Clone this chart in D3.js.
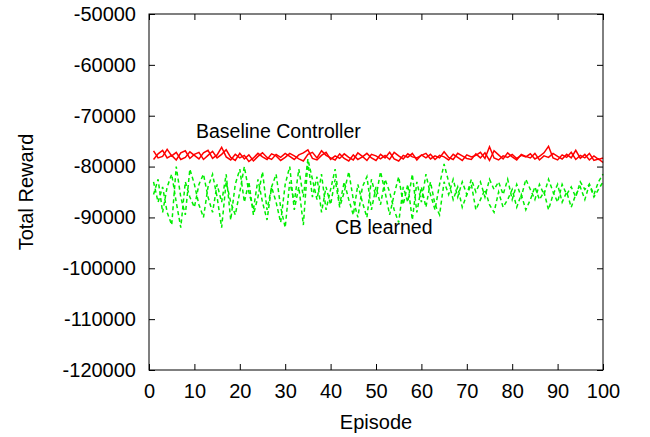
<!DOCTYPE html>
<html>
<head>
<meta charset="utf-8">
<script src="https://cdn.jsdelivr.net/npm/d3@7"></script>
<style>
  body { margin: 0; background: #fff; }
  text { font-family: "Liberation Sans", Arial, sans-serif; fill: #000; }
</style>
</head>
<body>
<svg id="chart" width="650" height="437"></svg>
<script>
// episodes 1..100
var episodes = d3.range(1, 101)

var xTicks = [0, 10, 20, 30, 40, 50, 60, 70, 80, 90, 100]
var yTicks = [-50000, -60000, -70000, -80000, -90000, -100000, -110000, -120000]

// baseline controller runs (red)
var baselineA = [
  -76900,-78300,-78000,-76600,-77900,-77200,-78600,-78200,-77100,-77800,
  -78500,-77300,-76800,-78400,-77700,-76200,-78100,-78700,-77600,-78300,
  -77800,-79000,-78300,-77400,-78100,-78600,-77500,-77900,-78800,-78200,
  -77400,-77900,-78500,-78900,-77600,-77200,-78300,-76900,-77800,-78300,
  -78700,-77500,-78400,-78900,-77700,-78600,-78100,-77400,-78300,-78800,
  -77600,-78300,-77200,-78500,-78900,-77800,-78200,-77400,-78700,-77700,
  -78300,-77600,-78600,-77800,-78100,-78700,-77600,-78200,-78800,-77700,
  -78100,-77800,-77200,-78400,-76100,-78300,-78700,-77900,-78200,-77600,
  -78400,-77800,-78100,-77500,-78500,-78000,-77300,-76000,-78300,-78700,
  -77700,-78200,-77200,-78600,-77800,-78300,-77400,-78800,-78500,-79200
]
var baselineB = [
  -78600,-77500,-76800,-78300,-77800,-78700,-77300,-76900,-78400,-77600,
  -77200,-78600,-77800,-77000,-78300,-77600,-76700,-78200,-78800,-77400,
  -78500,-77700,-78900,-78000,-77300,-78200,-78600,-77600,-78200,-77400,
  -78000,-78600,-77700,-77300,-76700,-78400,-78700,-77800,-77200,-78600,
  -77900,-78400,-77500,-78200,-78700,-77300,-78000,-78800,-77600,-77900,
  -78500,-77800,-78600,-77200,-77900,-78500,-77500,-78100,-78300,-77800,
  -77400,-78500,-77900,-78300,-77100,-78200,-78600,-77400,-77900,-78400,
  -78600,-77500,-78300,-77300,-78800,-76900,-77700,-78500,-77300,-78100,
  -78700,-77600,-78000,-78300,-77400,-78700,-77900,-78200,-77400,-78000,
  -78500,-77600,-78300,-76800,-78400,-77600,-78700,-77900,-78600,-78300
]

// CB learned runs (green, dashed)
var learnedA = [
  -83000,-87000,-84000,-89000,-91500,-80000,-86000,-89500,-80500,-83500,
  -87500,-90000,-84000,-81500,-86000,-92000,-83000,-87000,-89500,-85000,
  -80000,-85000,-88500,-82500,-87000,-90500,-84000,-81500,-88000,-92000,
  -83000,-87000,-80500,-86000,-78500,-82500,-86500,-81500,-88500,-84500,
  -80500,-87500,-83000,-86500,-89500,-83500,-87000,-90000,-82500,-86000,
  -81000,-85000,-89500,-85500,-82000,-87500,-83500,-90500,-83000,-87000,
  -81500,-85500,-88500,-83500,-79500,-83000,-86500,-84000,-88000,-85500,
  -83500,-88500,-86500,-84500,-87500,-89000,-85000,-88000,-86500,-84500,
  -88000,-85500,-88500,-86500,-84000,-86500,-85000,-88500,-85500,-83500,
  -87000,-85000,-88000,-85500,-84000,-86500,-83500,-85500,-83000,-81500
]
var learnedB = [
  -85500,-82500,-89000,-84000,-81500,-87000,-92000,-83000,-86000,-88000,
  -83500,-81500,-86000,-89000,-83500,-87000,-81500,-90500,-83500,-80500,
  -87000,-83000,-89500,-86000,-81000,-88500,-84000,-87000,-91000,-83500,
  -80000,-88500,-84000,-91500,-79000,-86000,-82000,-89000,-84000,-87500,
  -82500,-88000,-85000,-81000,-86500,-90000,-84000,-82000,-88500,-84000,
  -87500,-82500,-85000,-88500,-91000,-84000,-87000,-81500,-89000,-84000,
  -88000,-83000,-87500,-89500,-83000,-85500,-82500,-86000,-83000,-85500,
  -82500,-85000,-83000,-86000,-82500,-84500,-83000,-85500,-82500,-86500,
  -83500,-86000,-82500,-84500,-86500,-83500,-85500,-82500,-85000,-87000,
  -83500,-85500,-84000,-86000,-83000,-84500,-83500,-86000,-84500,-83000
]

var svg = d3.select("#chart")
var margin = {left: 149, right: 47, top: 14, bottom: 67}
var w = 650 - margin.left - margin.right
var h = 437 - margin.top - margin.bottom

var x = d3.scaleLinear().domain([0, 100]).range([margin.left, margin.left + w])
var y = d3.scaleLinear().domain([-120000, -50000]).range([margin.top + h, margin.top])

var line = d3.line()
  .x(function(d, i) { return x(episodes[i]) })
  .y(function(d) { return y(d) })

// plot lines first so frame sits on top
var plot = svg.append("g")

;[learnedA, learnedB].forEach(function(s) {
  plot.append("path")
    .datum(s)
    .attr("d", line)
    .attr("fill", "none")
    .attr("stroke", "#00ee00")
    .attr("stroke-width", 1.5)
    .attr("stroke-dasharray", "4,3")
})

;[baselineA, baselineB].forEach(function(s) {
  plot.append("path")
    .datum(s)
    .attr("d", line)
    .attr("fill", "none")
    .attr("stroke", "#ff0000")
    .attr("stroke-width", 1.5)
})

// axes with inward ticks, mirrored
var tl = 6
var plain = function(d) { return String(d) }
svg.append("g")
  .attr("transform", "translate(0," + (margin.top + h) + ")")
  .call(d3.axisBottom(x).tickValues(xTicks).tickFormat(plain).tickSizeInner(-tl).tickSizeOuter(0).tickPadding(14))
svg.append("g")
  .attr("transform", "translate(0," + margin.top + ")")
  .call(d3.axisTop(x).tickValues(xTicks).tickSizeInner(-tl).tickSizeOuter(0).tickFormat(""))
svg.append("g")
  .attr("transform", "translate(" + margin.left + ",0)")
  .call(d3.axisLeft(y).tickValues(yTicks).tickFormat(plain).tickSizeInner(-tl).tickSizeOuter(0).tickPadding(13))
svg.append("g")
  .attr("transform", "translate(" + (margin.left + w) + ",0)")
  .call(d3.axisRight(y).tickValues(yTicks).tickSizeInner(-tl).tickSizeOuter(0).tickFormat(""))

svg.selectAll(".domain").remove()
svg.selectAll(".tick line").attr("stroke", "#000")
svg.selectAll(".tick text")
  .style("font-family", "'Liberation Sans', Arial, sans-serif")
  .style("font-size", "20px")

svg.append("rect")
  .attr("x", margin.left).attr("y", margin.top)
  .attr("width", w).attr("height", h)
  .attr("fill", "none").attr("stroke", "#000").attr("stroke-width", 1)

// axis titles
svg.append("text")
  .attr("x", margin.left + w / 2).attr("y", 429)
  .attr("text-anchor", "middle")
  .style("font-size", "20px")
  .text("Episode")
svg.append("text")
  .attr("transform", "translate(33," + (margin.top + h / 2) + ") rotate(-90)")
  .attr("text-anchor", "middle")
  .style("font-size", "20px")
  .text("Total Reward")

// series labels
svg.append("text")
  .attr("x", 196).attr("y", 138)
  .style("font-size", "19.5px")
  .text("Baseline Controller")
svg.append("text")
  .attr("x", 335).attr("y", 234)
  .style("font-size", "19.5px")
  .text("CB learned")
</script>
</body>
</html>
